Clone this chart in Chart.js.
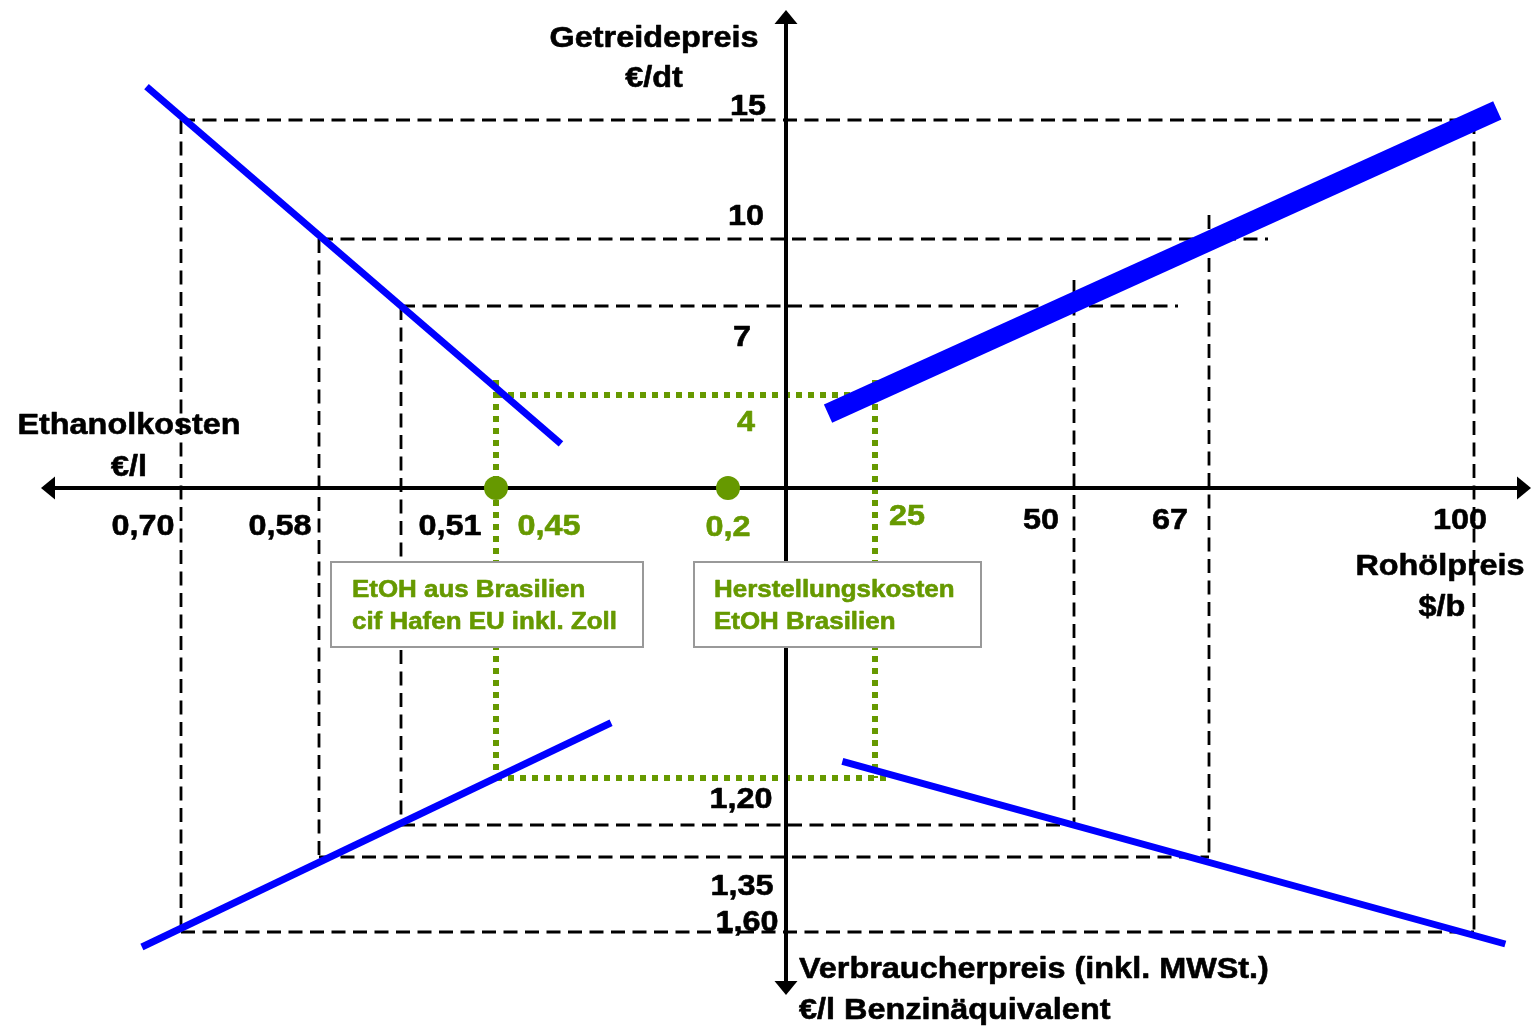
<!DOCTYPE html>
<html lang="de">
<head>
<meta charset="utf-8">
<title>Ethanolkosten, Getreidepreis, Rohölpreis und Verbraucherpreis</title>
<script src="https://cdn.jsdelivr.net/npm/chart.js@4.4.1/dist/chart.umd.min.js"></script>
<style>
  html, body { margin: 0; padding: 0; background: #fff; }
  #wrap { width: 1533px; height: 1026px; }
</style>
</head>
<body>
<div id="wrap"><canvas id="chart" width="1533" height="1026"></canvas></div>
<script>
// Scenarios (index 0 = Brazilian ethanol, drawn green)
const scenarioEthanol = [0.45, 0.51, 0.58, 0.70]   // €/l
const scenarioGrain = [4, 7, 10, 15]               // €/dt
const scenarioOil = [25, 50, 67, 100]              // $/b
const scenarioPrice = [1.05, 1.20, 1.35, 1.60]     // €/l Benzinäquivalent (first one not labelled)
const brazilCost = 0.2                             // Herstellungskosten EtOH Brasilien

// Tick labels
const ethanolTickLabels = ['0,45', '0,51', '0,58', '0,70']
const grainTickLabels = ['4', '7', '10', '15']
const oilTickLabels = ['25', '50', '67', '100']
const priceTickLabels = ['', '1,20', '1,35', '1,60']
const brazilCostLabel = '0,2'

// Blue curves, end points
const ethGrainCurveEthanol = [0.73, 0.38]
const ethGrainCurveGrain = [16.4, 1.9]
const oilGrainCurveOil = [19.1, 102.9]
const oilGrainCurveGrain = [3.2, 15.4]
const ethPriceCurveEthanol = [0.734, 0.326]
const ethPriceCurvePrice = [1.65, 0.85]
const oilPriceCurveOil = [20.9, 103.9]
const oilPriceCurvePrice = [0.99, 1.64]

const BLUE = '#0000ff'
const GREEN = '#669900'

// the diagram is schematic: each axis is piecewise linear between its ticks
class BrokenScale extends Chart.LinearScale {
  static id = 'broken'
  static defaults = Chart.LinearScale.defaults

  toUnit(value) {
    const vs = this.options.breakValues
    const us = this.options.breakUnits
    let i = 1
    while (i < vs.length - 1 && value > vs[i]) i++
    return us[i - 1] + (value - vs[i - 1]) * (us[i] - us[i - 1]) / (vs[i] - vs[i - 1])
  }

  getPixelForValue(value) {
    return super.getPixelForValue(this.toUnit(value))
  }
}
Chart.register(BrokenScale)

// axis calibration (diagram units, origin = axis cross)
const ethanolAxisUnits = [0, -58, -290, -385, -467, -605]
const grainAxisUnits = [0, 93, 182, 249, 368]
const oilAxisUnits = [89, 288, 423, 688]
const priceAxisUnits = [0, -290, -337, -369, -444]

const pts = (xs, ys) => xs.map((x, i) => ({ x, y: ys[i] }))

const curve = (data, xAxisID, yAxisID, width) => ({
  data, xAxisID, yAxisID,
  showLine: true,
  borderColor: BLUE,
  borderWidth: width,
  borderCapStyle: 'butt',
  pointRadius: 0,
  pointHoverRadius: 0,
  fill: false
})

function seg(ctx, x1, y1, x2, y2) {
  ctx.beginPath()
  ctx.moveTo(x1, y1)
  ctx.lineTo(x2, y2)
  ctx.stroke()
}

function arrow(ctx, x, y, dx, dy) {
  const len = 14, half = 11.5
  const bx = x - dx * len, by = y - dy * len
  ctx.beginPath()
  ctx.moveTo(x, y)
  ctx.lineTo(bx - dy * half, by + dx * half)
  ctx.lineTo(bx + dy * half, by - dx * half)
  ctx.closePath()
  ctx.fill()
}

function label(ctx, str, x, y, opts = {}) {
  const size = opts.size || 30
  const color = opts.color || '#000'
  ctx.save()
  ctx.font = `bold ${size}px "Liberation Sans", Arial, Helvetica, sans-serif`
  ctx.fillStyle = color
  ctx.strokeStyle = color
  ctx.lineWidth = 0.6
  ctx.lineJoin = 'round'
  ctx.textAlign = opts.align || 'center'
  ctx.textBaseline = 'alphabetic'
  ctx.translate(x, y + size * 0.358)   // y is the middle of the capitals
  ctx.scale(1.08, 1)
  ctx.fillText(str, 0, 0)
  ctx.strokeText(str, 0, 0)
  ctx.restore()
}

// dashed guide rectangles through the scenario values
const guideRunRight = [12, 104, 59, 0]
const guideRunUp = [15, 26, 24, 0]

const guidesPlugin = {
  id: 'guides',
  beforeDatasetsDraw(chart) {
    const { ctx } = chart
    const { ethX, oilX, grainY, priceY } = chart.scales
    ctx.save()
    ctx.lineCap = 'butt'
    scenarioEthanol.forEach((e, i) => {
      const xe = ethX.getPixelForValue(e)
      const xo = oilX.getPixelForValue(scenarioOil[i])
      const yg = grainY.getPixelForValue(scenarioGrain[i])
      const yp = priceY.getPixelForValue(scenarioPrice[i])
      if (i === 0) {
        ctx.strokeStyle = GREEN
        ctx.lineWidth = 6
        ctx.setLineDash([6, 6])
        seg(ctx, xe, yg, xo + guideRunRight[i], yg)
        seg(ctx, xe, yp, xo + guideRunRight[i], yp)
        seg(ctx, xe, yg - guideRunUp[i], xe, yp)
      } else {
        ctx.strokeStyle = '#000'
        ctx.lineWidth = 2.8
        ctx.setLineDash([14, 7.5])
        seg(ctx, xe, yg, xo + guideRunRight[i], yg)
        seg(ctx, xe, yp, xo, yp)
        seg(ctx, xe, yg, xe, yp)
      }
      seg(ctx, xo, yg - guideRunUp[i], xo, yp)
    })

    // axes with arrow heads
    const ox = ethX.getPixelForValue(0)
    const oy = grainY.getPixelForValue(0)
    ctx.setLineDash([])
    ctx.strokeStyle = '#000'
    ctx.fillStyle = '#000'
    ctx.lineWidth = 4
    seg(ctx, 50, oy, 1522, oy)
    seg(ctx, ox, 20, ox, 985)
    arrow(ctx, 41, oy, -1, 0)
    arrow(ctx, 1531, oy, 1, 0)
    arrow(ctx, ox, 10, 0, -1)
    arrow(ctx, ox, 995, 0, 1)
    ctx.restore()
  },

  afterDatasetsDraw(chart) {
    const { ctx } = chart
    const { ethX, oilX, grainY, priceY } = chart.scales
    const ox = ethX.getPixelForValue(0)
    const oy = grainY.getPixelForValue(0)

    // note boxes
    ctx.save()
    ctx.fillStyle = '#fff'
    ctx.strokeStyle = '#999'
    ctx.lineWidth = 2
    ;[[331, 562, 312, 85], [694, 562, 287, 85]].forEach(([x, y, w, h]) => {
      ctx.fillRect(x, y, w, h)
      ctx.strokeRect(x, y, w, h)
    })
    ctx.restore()
    label(ctx, 'EtOH aus Brasilien', 352, 588, { size: 24, color: GREEN, align: 'left' })
    label(ctx, 'cif Hafen EU inkl. Zoll', 352, 620, { size: 24, color: GREEN, align: 'left' })
    label(ctx, 'Herstellungskosten', 714, 588, { size: 24, color: GREEN, align: 'left' })
    label(ctx, 'EtOH Brasilien', 714, 620, { size: 24, color: GREEN, align: 'left' })

    // axis titles
    label(ctx, 'Getreidepreis', 654, 36)
    label(ctx, '€/dt', 654, 76)
    label(ctx, 'Ethanolkosten', 129, 423)
    label(ctx, '€/l', 129, 465)
    label(ctx, 'Rohölpreis', 1440, 564)
    label(ctx, '$/b', 1442, 605)
    label(ctx, 'Verbraucherpreis (inkl. MWSt.)', 799, 967, { align: 'left' })
    label(ctx, '€/l Benzinäquivalent', 799, 1008, { align: 'left' })

    // tick labels
    const ethDx = [53, 49, -39, -38]
    scenarioEthanol.forEach((v, i) => {
      label(ctx, ethanolTickLabels[i], ethX.getPixelForValue(v) + ethDx[i], oy + 36,
        { color: i === 0 ? GREEN : '#000' })
    })
    label(ctx, brazilCostLabel, ethX.getPixelForValue(brazilCost), oy + 37, { color: GREEN })

    const oilDx = [32, -33, -39, -14]
    const oilDy = [26, 30, 30, 30]
    scenarioOil.forEach((v, i) => {
      label(ctx, oilTickLabels[i], oilX.getPixelForValue(v) + oilDx[i], oy + oilDy[i],
        { color: i === 0 ? GREEN : '#000' })
    })

    const grainDx = [-40, -44, -40, -38]
    const grainDy = [25, 29, -25, -16]
    scenarioGrain.forEach((v, i) => {
      label(ctx, grainTickLabels[i], ox + grainDx[i], grainY.getPixelForValue(v) + grainDy[i],
        { color: i === 0 ? GREEN : '#000' })
    })

    const priceDx = [0, -45, -44, -39]
    const priceDy = [0, -28, 27, -12]
    scenarioPrice.forEach((v, i) => {
      if (!priceTickLabels[i]) return
      label(ctx, priceTickLabels[i], ox + priceDx[i], priceY.getPixelForValue(v) + priceDy[i])
    })
  }
}

const hidden = { display: false, bounds: 'data' }

new Chart(document.getElementById('chart'), {
  type: 'scatter',
  data: {
    datasets: [
      curve(pts(ethGrainCurveEthanol, ethGrainCurveGrain), 'ethX', 'grainY', 7),
      curve(pts(oilGrainCurveOil, oilGrainCurveGrain), 'oilX', 'grainY', 20),
      curve(pts(ethPriceCurveEthanol, ethPriceCurvePrice), 'ethX', 'priceY', 7),
      curve(pts(oilPriceCurveOil, oilPriceCurvePrice), 'oilX', 'priceY', 7),
      {
        data: [{ x: scenarioEthanol[0], y: 0 }, { x: brazilCost, y: 0 }],
        xAxisID: 'ethX',
        yAxisID: 'grainY',
        pointRadius: 12,
        pointHoverRadius: 12,
        pointBackgroundColor: GREEN,
        pointBorderWidth: 0,
        showLine: false
      }
    ]
  },
  options: {
    responsive: false,
    devicePixelRatio: 1,
    animation: false,
    events: [],
    layout: { padding: 0, autoPadding: false },
    plugins: { legend: { display: false }, tooltip: { enabled: false } },
    scales: {
      ethX: { ...hidden, type: 'broken', axis: 'x', position: 'bottom', min: -786, max: 747,
        breakValues: [0, brazilCost, ...scenarioEthanol], breakUnits: ethanolAxisUnits },
      oilX: { ...hidden, type: 'broken', axis: 'x', position: 'bottom', min: -786, max: 747,
        breakValues: scenarioOil, breakUnits: oilAxisUnits },
      grainY: { ...hidden, type: 'broken', axis: 'y', position: 'left', min: -538, max: 488,
        breakValues: [0, ...scenarioGrain], breakUnits: grainAxisUnits },
      priceY: { ...hidden, type: 'broken', axis: 'y', position: 'left', min: -538, max: 488,
        breakValues: [0, ...scenarioPrice], breakUnits: priceAxisUnits }
    }
  },
  plugins: [guidesPlugin]
})
</script>
</body>
</html>
